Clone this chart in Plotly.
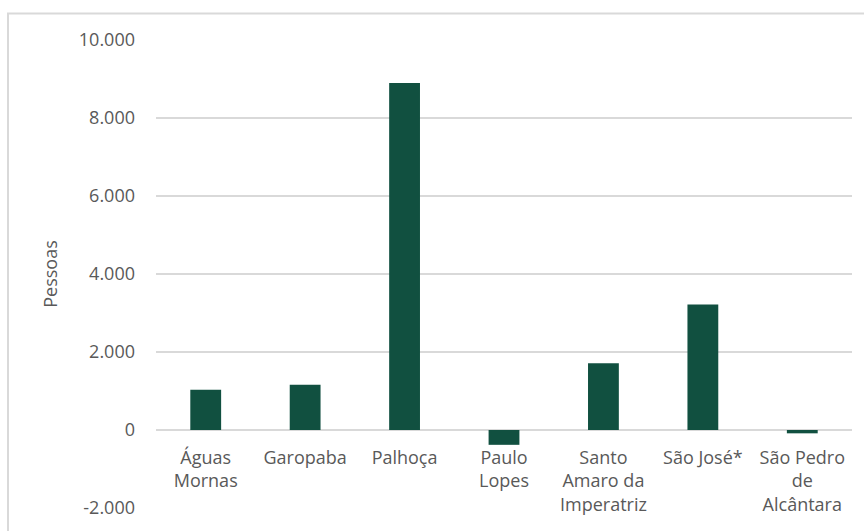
import plotly.graph_objects as go

# Municípios e saldo populacional (pessoas)
municipios = [
    "Águas<br>Mornas",
    "Garopaba",
    "Palhoça",
    "Paulo<br>Lopes",
    "Santo<br>Amaro da<br>Imperatriz",
    "São José*",
    "São Pedro<br>de<br>Alcântara",
]
pessoas = [1030, 1160, 8900, -380, 1710, 3220, -85]

y_ticks = [-2000, 0, 2000, 4000, 6000, 8000, 10000]
y_tick_text = ["-2.000", "0", "2.000", "4.000", "6.000", "8.000", "10.000"]

bar_color = "#115040"
text_color = "#595959"
grid_color = "#d9d9d9"
font_family = "'Open Sans', sans-serif"

fig = go.Figure(
    go.Bar(
        x=municipios,
        y=pessoas,
        marker=dict(color=bar_color, line=dict(width=0)),
        hoverinfo="x+y",
    )
)

y_min, y_max = -2000, 10000

fig.update_layout(
    width=864,
    height=531,
    margin=dict(l=156, r=12, t=40, b=23),
    paper_bgcolor="white",
    plot_bgcolor="white",
    bargap=0.69,
    showlegend=False,
    font=dict(family=font_family, size=18, color=text_color),
    xaxis=dict(
        anchor="free",
        position=(0 - y_min) / (y_max - y_min),
        showgrid=False,
        showline=False,
        zeroline=False,
        ticks="",
        tickfont=dict(size=18, color=text_color),
        ticklabelstandoff=15,
    ),
    yaxis=dict(
        range=[y_min, y_max],
        tickvals=y_ticks,
        ticktext=y_tick_text,
        showgrid=True,
        gridcolor=grid_color,
        gridwidth=2,
        zeroline=True,
        zerolinecolor=grid_color,
        zerolinewidth=2,
        showline=False,
        ticks="",
        tickfont=dict(size=18, color=text_color),
        ticklabelstandoff=20,
        title=dict(text="Pessoas", font=dict(size=18, color=text_color), standoff=16),
    ),
    shapes=[
        dict(
            type="rect",
            xref="paper",
            yref="paper",
            x0=(8 - 156) / 696,
            x1=1.2,
            y0=-0.2,
            y1=(508 - 14) / 467.5,
            line=dict(color=grid_color, width=2),
            fillcolor="rgba(0,0,0,0)",
            layer="below",
        )
    ],
)

fig.write_html("out.html")
